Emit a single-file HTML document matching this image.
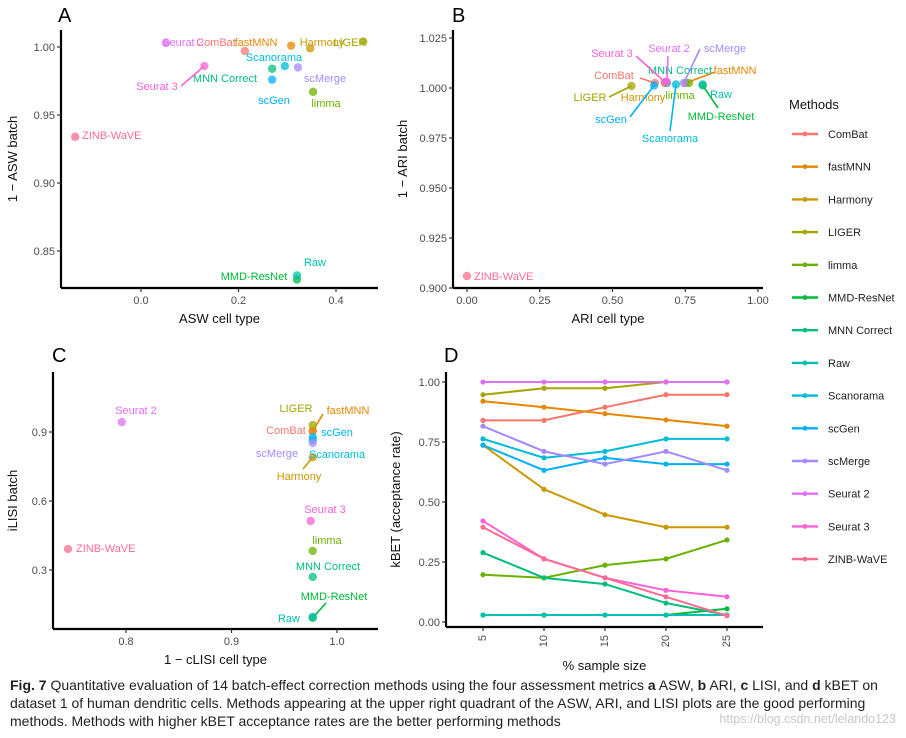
<!DOCTYPE html>
<html><head><meta charset="utf-8"><style>
html,body{margin:0;padding:0;background:#fff;}
svg{display:block;font-family:"Liberation Sans",Arial,sans-serif;}
.tick{font-size:11px;fill:#4d4d4d;}
.atitle{font-size:13px;fill:#111;}
.lab{font-size:11px;}
.cap{font-size:14px;fill:#222;}
</style></head><body>
<svg id="fig" width="906" height="738" viewBox="0 0 906 738"></svg>
<script>
const methods=["ComBat","fastMNN","Harmony","LIGER","limma","MMD-ResNet","MNN Correct","Raw","Scanorama","scGen","scMerge","Seurat 2","Seurat 3","ZINB-WaVE"];
const colors=["#F8766D","#E58700","#C99800","#A3A500","#6BB100","#00BA38","#00BF7D","#00C0AF","#00BCD8","#00B0F6","#A58AFF","#DF70F8","#FB61D7","#FF6C91"];
// Panel A: ASW
const aswX=[0.213,0.308,0.347,0.456,0.353,0.320,0.269,0.320,0.295,0.269,0.322,0.051,0.130,-0.135];
const aswY=[0.997,1.001,0.999,1.004,0.967,0.829,0.984,0.832,0.986,0.976,0.985,1.003,0.986,0.934];
// Panel B: ARI
const ariX=[0.646,0.752,0.680,0.565,0.763,0.810,0.687,0.810,0.718,0.643,0.745,0.687,0.680,0.0];
const ariY=[1.0025,1.0025,1.0025,1.001,1.0025,1.0013,1.0025,1.0018,1.0018,1.0013,1.0025,1.003,1.003,0.906];
// Panel C: LISI
const lisiX=[0.977,0.977,0.977,0.977,0.977,0.977,0.977,0.977,0.977,0.977,0.977,0.796,0.975,0.745];
const lisiY=[0.905,0.904,0.79,0.93,0.383,0.092,0.27,0.096,0.865,0.878,0.852,0.943,0.513,0.391];
// Panel D: kBET
const sampleSizes=[5,10,15,20,25];
const kbet=[
[.84,.84,.895,.947,.947],
[.92,.895,.868,.842,.816],
[.737,.553,.447,.395,.395],
[.947,.974,.974,1,1],
[.197,.184,.237,.263,.342],
[.029,.029,.029,.029,.055],
[.289,.184,.158,.079,.029],
[.029,.029,.029,.029,.029],
[.763,.684,.711,.763,.763],
[.737,.632,.684,.658,.658],
[.816,.711,.658,.711,.632],
[1,1,1,1,1],
[.421,.263,.184,.132,.105],
[.395,.263,.184,.105,.026]];
const ticksAx=[0.0,0.2,0.4], ticksAy=[0.85,0.90,0.95,1.00];
const ticksBx=[0,0.25,0.5,0.75,1], ticksBy=[0.900,0.925,0.950,0.975,1.000,1.025];
const ticksCx=[0.8,0.9,1.0], ticksCy=[0.3,0.6,0.9];
const ticksDy=[0,0.25,0.5,0.75,1];

const NS="http://www.w3.org/2000/svg";
const svg=document.getElementById('fig');
function el(tag,attrs,parent,text){const e=document.createElementNS(NS,tag);for(const k in attrs)e.setAttribute(k,attrs[k]);if(text!==undefined)e.textContent=text;(parent||svg).appendChild(e);return e;}
function lin(d0,d1,p0,p1){return v=>p0+(v-d0)/(d1-d0)*(p1-p0);}

function axes(g,x0,x1,yTop,yBot,xs,ys,xt,yt,xfmt,yfmt,xtitle,ytitle,letter,lx,ly,rotX,ytOff){
  const a=el('line',{x1:x0,y1:yTop,x2:x0,y2:yBot,stroke:'#000','stroke-width':2.2},g);
  
  const b=el('line',{x1:x0,y1:yBot,x2:x1,y2:yBot,stroke:'#000','stroke-width':2.2},g);
  
  xt.forEach(v=>{const x=xs(v);el('line',{x1:x,y1:yBot,x2:x,y2:yBot+4,stroke:'#333','stroke-width':1.2},g);
    let t;
    if(rotX){t=el('text',{x:x,y:yBot+8,class:'tick','text-anchor':'end','dominant-baseline':'central',transform:`rotate(-90 ${x} ${yBot+8})`},g,xfmt(v));}
    else t=el('text',{x:x,y:yBot+16,class:'tick','text-anchor':'middle'},g,xfmt(v));
    });
  yt.forEach(v=>{const y=ys(v);el('line',{x1:x0-4,y1:y,x2:x0,y2:y,stroke:'#333','stroke-width':1.2},g);
    const t=el('text',{x:x0-6,y:y+4,class:'tick','text-anchor':'end'},g,yfmt(v));
    });
  const xt2=el('text',{x:(x0+x1)/2,y:yBot+(rotX?43:35),class:'atitle','text-anchor':'middle'},g,xtitle);
  
  const ytx=x0-ytOff, yty=(yTop+yBot)/2;
  const yt2=el('text',{x:ytx,y:yty,class:'atitle','text-anchor':'middle',transform:`rotate(-90 ${ytx} ${yty})`},g,ytitle);
  
  const L=el('text',{x:lx,y:ly,'font-size':'20px',fill:'#000'},g,letter);
  
}
function scatter(g,xs,ys,X,Y,labels){
  methods.forEach((m,i)=>{
    const px=xs(X[i]),py=ys(Y[i]);const L=labels[i];
    if(L[3]){const ln=el('line',{x1:L[3][0],y1:L[3][1],x2:px,y2:py,stroke:colors[i],'stroke-width':1.6},g);
      }
    const c=el('circle',{cx:px,cy:py,r:4.2,fill:colors[i],'fill-opacity':0.75},g);
    
    
    const t=el('text',{x:L[0],y:L[1],class:'lab',fill:colors[i],'text-anchor':L[2],'dominant-baseline':'central'},g,m);
    
  });
}
// Panel A
{const g=el('g',{});
 const xs=lin(0,0.2,141,238.5), ys=lin(1.0,0.95,47,115);
 axes(g,61,378,30,288,xs,ys,ticksAx,ticksAy,v=>v.toFixed(1),v=>v.toFixed(2),'ASW cell type','1 \u2212 ASW batch','A',58,22,false,44);
 scatter(g,xs,ys,aswX,aswY,[[216,43,'middle'],[256,43,'middle'],[322,43,'middle'],[350,43,'middle'],[326,104,'middle'],[254,277,'middle'],[225,79,'middle'],[315,263,'middle'],[274,58,'middle'],[274,101,'middle'],[325,79,'middle'],[183,43,'middle'],[157,87,'middle',[181,86]],[82,136,'start']]);}
// Panel B
{const g=el('g',{});
 const xs=lin(0,1,467,758), ys=lin(0.9,1.025,288,38);
 axes(g,453,763,30,288,xs,ys,ticksBx,ticksBy,v=>v.toFixed(2),v=>v.toFixed(3),'ARI cell type','1 \u2212 ARI batch','B',452,22,false,46);
 scatter(g,xs,ys,ariX,ariY,[[614,76,'middle',[640,78]],[735,71,'middle',[715,72]],[643,98,'middle'],[590,98,'middle',[609,97]],[680,96,'middle'],[721,117,'middle',[718,108]],[680,71,'middle'],[721,95,'middle'],[670,139,'middle',[670,131]],[611,120,'middle',[630,117]],[725,49,'middle',[700,49]],[669,49,'middle',[668,56]],[612,54,'middle',[636,56]],[474,277,'start']]);}
// Panel C
{const g=el('g',{});
 const xs=lin(0.8,0.9,126,231.5), ys=lin(0.9,0.6,432,501);
 axes(g,53,378,372,629,xs,ys,ticksCx,ticksCy,v=>v.toFixed(1),v=>v.toFixed(1),'1 \u2212 cLISI cell type','iLISI batch','C',52,362,false,36);
 scatter(g,xs,ys,lisiX,lisiY,[[286,431,'middle'],[348,411,'middle',[323,414]],[299,477,'middle',[303,469]],[296,409,'middle'],[327,541,'middle'],[334,597,'middle',[326,603]],[328,567,'middle'],[289,619,'middle'],[337,455,'middle'],[337,433,'middle'],[277,454,'middle'],[136,411,'middle'],[325,510,'middle'],[76,549,'start']]);}
// Panel D
{const g=el('g',{});
 const xs=lin(5,25,483,727), ys=lin(0,1,622,382);
 axes(g,446,763,372,627,xs,ys,sampleSizes,ticksDy,v=>String(v),v=>v.toFixed(2),'% sample size','kBET (acceptance rate)','D',444,362,true,46);
 methods.forEach((m,i)=>{
   const pts=sampleSizes.map((s,j)=>xs(s)+','+ys(kbet[i][j])).join(' ');
   const pl=el('polyline',{points:pts,fill:'none',stroke:colors[i],'stroke-width':2},g);
   
   
   sampleSizes.forEach((s,j)=>{const c=el('circle',{cx:xs(s),cy:ys(kbet[i][j]),r:2.6,fill:colors[i]},g);
     });
 });}
// Legend
{const g=el('g',{});
 const t=el('text',{x:789,y:109,'font-size':'13px',fill:'#111'},g,'Methods');
 
 methods.forEach((m,i)=>{const y=134+i*32.7;
   const e=el('g',{},g);
   el('line',{x1:792,y1:y,x2:818,y2:y,stroke:colors[i],'stroke-width':2.4},e);
   el('circle',{cx:805,cy:y,r:2.4,fill:colors[i]},e);
   el('text',{x:828,y:y+4,'font-size':'11px',fill:'#222'},e,m);});}
// Caption
{const g=el('g',{});
 const l1=el('text',{x:10,y:690,class:'cap'},g);
 el('tspan',{'font-weight':'bold'},l1,'Fig. 7');
 el('tspan',{},l1,' Quantitative evaluation of 14 batch-effect correction methods using the four assessment metrics ');
 el('tspan',{'font-weight':'bold'},l1,'a');el('tspan',{},l1,' ASW, ');
 el('tspan',{'font-weight':'bold'},l1,'b');el('tspan',{},l1,' ARI, ');
 el('tspan',{'font-weight':'bold'},l1,'c');el('tspan',{},l1,' LISI, and ');
 el('tspan',{'font-weight':'bold'},l1,'d');el('tspan',{},l1,' kBET on');
 el('text',{x:10,y:708,class:'cap'},g,'dataset 1 of human dendritic cells. Methods appearing at the upper right quadrant of the ASW, ARI, and LISI plots are the good performing');
 el('text',{x:10,y:726,class:'cap'},g,'methods. Methods with higher kBET acceptance rates are the better performing methods');
 const w=el('text',{x:896,y:723,'font-size':'12.5px',fill:'#c8c8c8','text-anchor':'end'},g,'https://blog.csdn.net/lelando123');
 }
</script>
</body></html>
